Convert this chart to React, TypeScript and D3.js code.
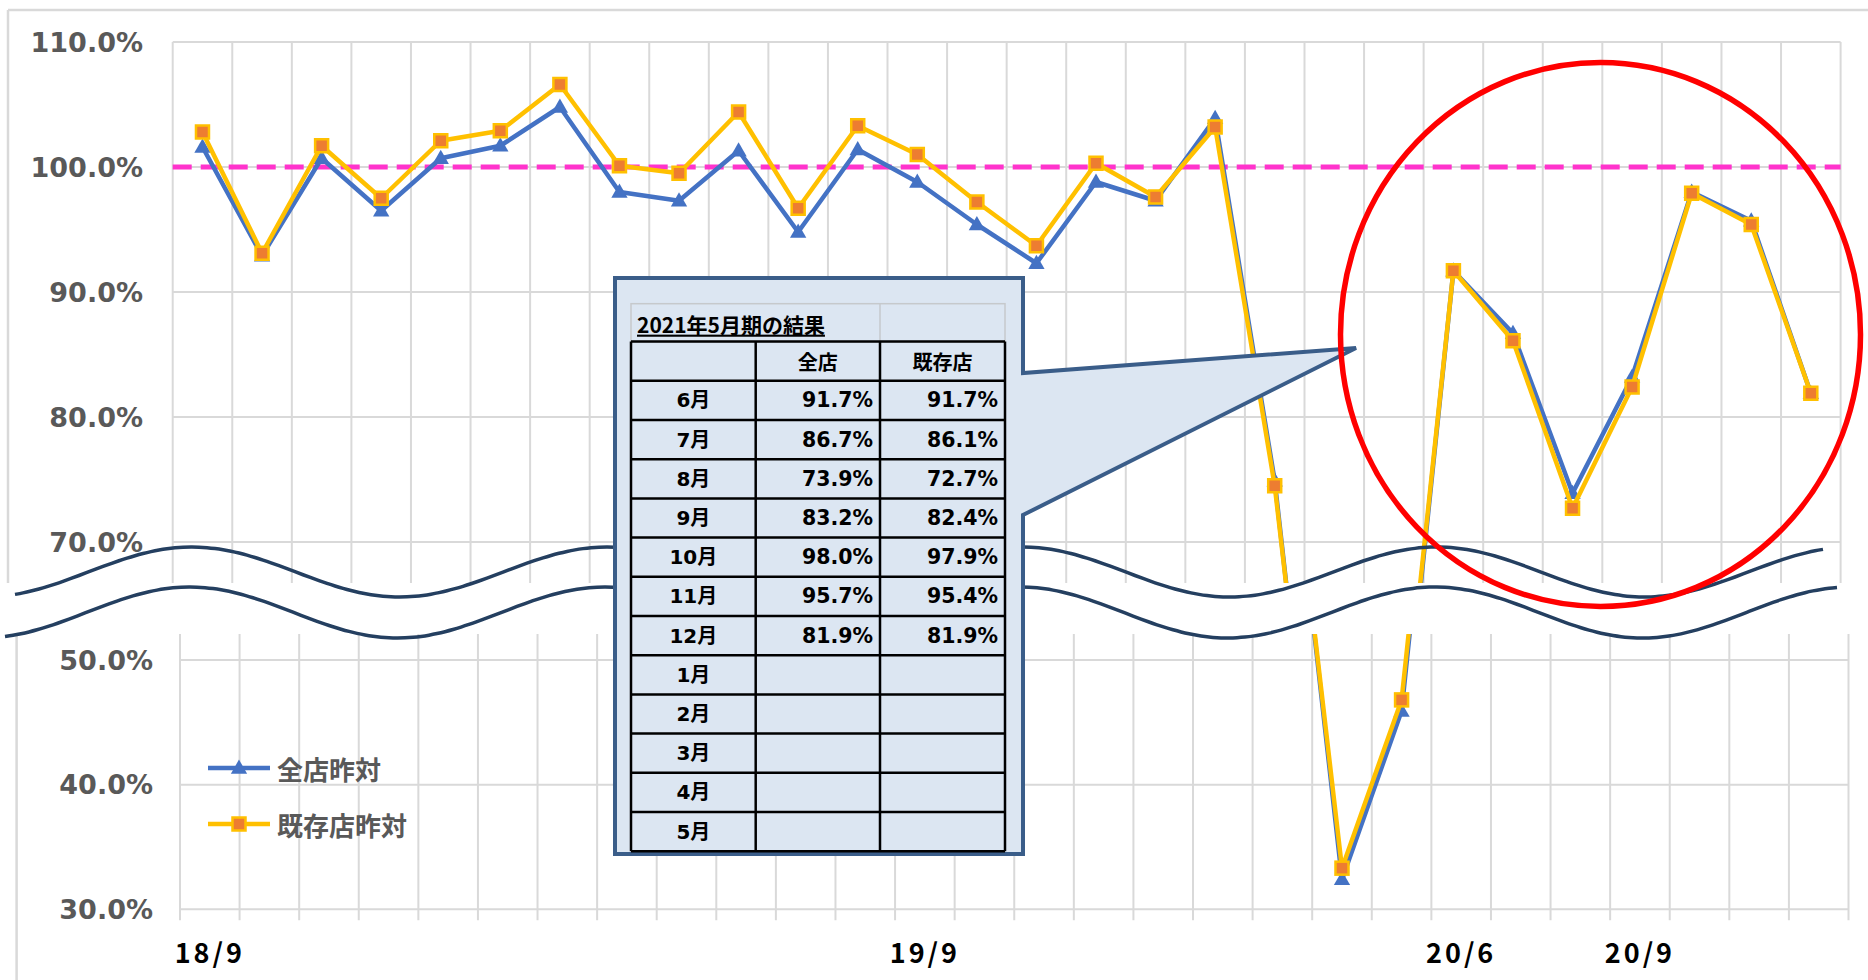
import React from 'react'
import * as d3 from 'd3'

// monthly categories 2018/9 .. 2020/12
const months = [
  '18/9', '18/10', '18/11', '18/12', '19/1', '19/2', '19/3', '19/4', '19/5', '19/6', '19/7', '19/8', '19/9', '19/10',
  '19/11', '19/12', '20/1', '20/2', '20/3', '20/4', '20/5', '20/6', '20/7', '20/8', '20/9', '20/10', '20/11', '20/12',
]
const shownTicks = ['18/9', '19/9', '20/6', '20/9']

// 全店昨対 (blue) and 既存店昨対 (orange), in %
const allStores = [
  101.6, 92.9, 100.7, 96.5, 100.7, 101.7, 104.8, 98.0, 97.3, 101.3, 94.8, 101.4, 98.8, 95.4,
  92.3, 98.8, 97.3, 103.9, 74.9, 32.4, 45.9, 91.7, 86.7, 73.9, 83.2, 98.0, 95.7, 81.9,
]
const existingStores = [
  102.8, 93.1, 101.7, 97.5, 102.1, 102.9, 106.6, 100.1, 99.5, 104.4, 96.7, 103.3, 101.0, 97.2,
  93.7, 100.3, 97.6, 103.2, 74.5, 33.3, 46.8, 91.7, 86.1, 72.7, 82.4, 97.9, 95.4, 81.9,
]
const seriesNames = ['全店昨対', '既存店昨対']

const upperTicks = [110, 100, 90, 80, 70]
const lowerTicks = [50, 40, 30]
const baseline = 100

// results table in the callout
const tableTitle = '2021年5月期の結果'
const tableHeader = ['', '全店', '既存店']
const tableMonths = ['6月', '7月', '8月', '9月', '10月', '11月', '12月', '1月', '2月', '3月', '4月', '5月']
const tableAll = ['91.7%', '86.7%', '73.9%', '83.2%', '98.0%', '95.7%', '81.9%']
const tableExisting = ['91.7%', '86.1%', '72.7%', '82.4%', '97.9%', '95.4%', '81.9%']

const W = 1868
const H = 980
const BLUE = '#4472c4'
const YELLOW = '#ffc000'
const ORANGE = '#ed7d31'
const GRID = '#d9d9d9'
const NUM_FONT = "'DejaVu Sans', 'Noto Sans CJK JP', sans-serif"
const JP_FONT = "'Noto Sans CJK JP', 'Noto Sans', sans-serif"

const upperX = d3.scaleBand<string>().domain(months).range([172.7, 1840.6])
const upperY = d3.scaleLinear().domain([70, 110]).range([542, 42])
const lowerX = d3.scaleBand<string>().domain(months).range([180, 1848.5])
const lowerY = d3.scaleLinear().domain([30, 50]).range([909.3, 660])

const triangle = d3.symbol(d3.symbolTriangle, 115)()

function Series({ x, y }: { x: d3.ScaleBand<string>; y: d3.ScaleLinear<number, number> }) {
  const cx = (i: number) => (x(months[i]) as number) + x.bandwidth() / 2
  const line = d3.line<number>().x((d, i) => cx(i)).y(d => y(d))
  return (
    <g>
      <path d={line(allStores) || ''} fill="none" stroke={BLUE} strokeWidth={4.5} strokeLinejoin="round" />
      {allStores.map((v, i) => (
        <path key={'t' + i} d={triangle || ''} transform={`translate(${cx(i)},${y(v) + 1})`} fill={BLUE} />
      ))}
      <path d={line(existingStores) || ''} fill="none" stroke={YELLOW} strokeWidth={4.5} strokeLinejoin="round" />
      {existingStores.map((v, i) => (
        <rect key={'s' + i} x={cx(i) - 6.5} y={y(v) - 6.5} width={13} height={13} fill={ORANGE} stroke={YELLOW} strokeWidth={2.5} />
      ))}
    </g>
  )
}

function Panel(props: {
  x: d3.ScaleBand<string>; y: d3.ScaleLinear<number, number>; ticks: number[]
  top: number; bottom: number; labelX: number; clip: string; axis: boolean
}) {
  const { x, y, ticks, top, bottom, labelX, clip, axis } = props
  const [x0, x1] = x.range()
  const bounds = d3.range(months.length + 1).map(i => x0 + i * x.step())
  const gridBottom = axis ? y(ticks[ticks.length - 1]) : bottom
  return (
    <g>
      <g clipPath={`url(#${clip})`}>
        {bounds.map((bx, i) => (
          <line key={'v' + i} x1={bx} x2={bx} y1={top} y2={axis ? gridBottom + 11 : gridBottom} stroke={GRID} strokeWidth={2} />
        ))}
        {ticks.map(t => (
          <line key={'h' + t} x1={x0} x2={x1} y1={y(t)} y2={y(t)} stroke={GRID} strokeWidth={2} />
        ))}
        {!axis && (
          <line x1={x0} x2={x1} y1={y(baseline)} y2={y(baseline)} stroke="#ff33cc" strokeWidth={5} strokeDasharray="19 9" />
        )}
        <Series x={x} y={y} />
      </g>
      {ticks.map(t => (
        <text key={'l' + t} x={labelX} y={y(t)} textAnchor="end" dominantBaseline="central"
          fontFamily={NUM_FONT} fontWeight="bold" fontSize={27} fill="#595959">
          {t.toFixed(1) + '%'}
        </text>
      ))}
      {axis && shownTicks.map(m => (
        <text key={m} x={(x(m) as number) + x.bandwidth() / 2} y={951} textAnchor="middle" dominantBaseline="central"
          fontFamily={JP_FONT} fontWeight="bold" fontSize={27} letterSpacing={3} fill="#000">
          {m}
        </text>
      ))}
    </g>
  )
}

// wavy break lines between the two panels
function wave(xStart: number, xEnd: number, mid: number, amp: number, crest: number) {
  const pts = d3.range(xStart, xEnd + 1, 8).map(px => [px, mid - amp * Math.cos((2 * Math.PI * (px - crest)) / 415)] as [number, number])
  return d3.line().curve(d3.curveNatural)(pts) || ''
}

function Callout() {
  const cols = [631, 755.7, 880, 1005]
  const titleTop = 303.7
  const headTop = 341.6
  const rowH = 39.2
  const bodyTop = headTop + rowH
  const rowY = (i: number) => bodyTop + i * rowH
  const bodyBottom = rowY(tableMonths.length)
  return (
    <g>
      <path d="M615,278 H1023 V373 L1356,348 L1023,515 V854 H615 Z" fill="#dce6f2" stroke="#3a5d89" strokeWidth={4} strokeLinejoin="miter" />
      {/* title row, light cell borders */}
      <rect x={cols[0]} y={titleTop} width={cols[3] - cols[0]} height={headTop - titleTop} fill="none" stroke="#c6c9cc" strokeWidth={1.5} />
      <line x1={cols[2]} x2={cols[2]} y1={titleTop} y2={headTop} stroke="#c6c9cc" strokeWidth={1.5} />
      <text x={637} y={(titleTop + headTop) / 2 + 1} dominantBaseline="central" fontFamily={JP_FONT} fontWeight="bold"
        fontSize={21} textDecoration="underline" fill="#000">{tableTitle}</text>
      {/* grid */}
      {d3.range(tableMonths.length + 2).map(i => (
        <line key={'r' + i} x1={cols[0]} x2={cols[3]} y1={headTop + i * rowH} y2={headTop + i * rowH} stroke="#000" strokeWidth={2.5} />
      ))}
      {cols.map((c, i) => (
        <line key={'c' + i} x1={c} x2={c} y1={headTop} y2={bodyBottom} stroke="#000" strokeWidth={2.5} />
      ))}
      {tableHeader.map((h, i) => (
        <text key={'h' + i} x={(cols[i] + cols[i + 1]) / 2} y={headTop + rowH / 2} textAnchor="middle" dominantBaseline="central"
          fontFamily={JP_FONT} fontWeight="bold" fontSize={20} fill="#000">{h}</text>
      ))}
      {tableMonths.map((m, i) => (
        <g key={m}>
          <text x={(cols[0] + cols[1]) / 2} y={rowY(i) + rowH / 2} textAnchor="middle" dominantBaseline="central"
            fontFamily={NUM_FONT} fontWeight="bold" fontSize={20} fill="#000">{m}</text>
          {tableAll[i] && (
            <text x={cols[2] - 7} y={rowY(i) + rowH / 2} textAnchor="end" dominantBaseline="central"
              fontFamily={NUM_FONT} fontWeight="bold" fontSize={20.5} fill="#000">{tableAll[i]}</text>
          )}
          {tableExisting[i] && (
            <text x={cols[3] - 7} y={rowY(i) + rowH / 2} textAnchor="end" dominantBaseline="central"
              fontFamily={NUM_FONT} fontWeight="bold" fontSize={20.5} fill="#000">{tableExisting[i]}</text>
          )}
        </g>
      ))}
    </g>
  )
}

function Legend() {
  const rows = [768, 824]
  return (
    <g>
      {seriesNames.map((name, i) => (
        <g key={name}>
          <line x1={208} x2={270} y1={rows[i]} y2={rows[i]} stroke={i === 0 ? BLUE : YELLOW} strokeWidth={4.5} />
          {i === 0
            ? <path d={triangle || ''} transform={`translate(239,${rows[i] + 1})`} fill={BLUE} />
            : <rect x={232.5} y={rows[i] - 6.5} width={13} height={13} fill={ORANGE} stroke={YELLOW} strokeWidth={2.5} />}
          <text x={277} y={rows[i]} dominantBaseline="central" fontFamily={JP_FONT} fontWeight="bold" fontSize={26} fill="#595959">{name}</text>
        </g>
      ))}
    </g>
  )
}

export default function App() {
  return (
    <svg width={W} height={H} viewBox={`0 0 ${W} ${H}`}
      style={{ position: 'absolute', left: 0, top: 0, background: '#fff', display: 'block' }}>
      <defs>
        <clipPath id="clipUpper"><rect x={0} y={0} width={W} height={583} /></clipPath>
        <clipPath id="clipLower"><rect x={0} y={634} width={W} height={H - 634} /></clipPath>
      </defs>
      <rect x={0} y={0} width={W} height={H} fill="#fff" />
      {/* upper chart frame */}
      <line x1={8} x2={W} y1={10} y2={10} stroke={GRID} strokeWidth={2.5} />
      <line x1={8} x2={8} y1={10} y2={583} stroke={GRID} strokeWidth={2.5} />
      <Panel x={upperX} y={upperY} ticks={upperTicks} top={42} bottom={583} labelX={143} clip="clipUpper" axis={false} />
      {/* lower chart frame */}
      <line x1={16.6} x2={16.6} y1={634} y2={H} stroke={GRID} strokeWidth={2.5} />
      <Panel x={lowerX} y={lowerY} ticks={lowerTicks} top={634} bottom={909.3} labelX={153} clip="clipLower" axis={true} />
      <path d={wave(15, 1829, 572, 25, 192)} fill="none" stroke="#243f60" strokeWidth={3.5} />
      <path d={wave(5, 1840, 612.5, 25.5, 190)} fill="none" stroke="#243f60" strokeWidth={3.5} />
      <Legend />
      <Callout />
      <ellipse cx={1600.5} cy={334.5} rx={260} ry={272} fill="none" stroke="#ff0000" strokeWidth={5.5} />
    </svg>
  )
}
